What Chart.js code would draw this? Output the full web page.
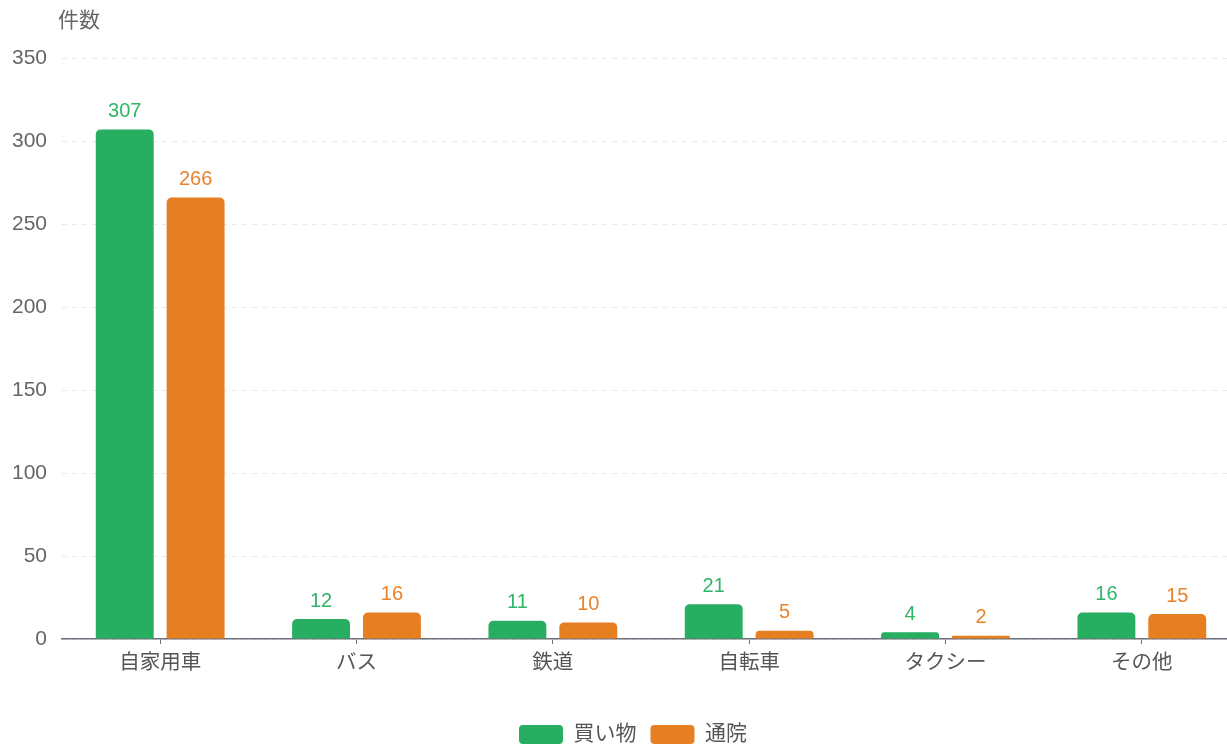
<!DOCTYPE html>
<html><head><meta charset="utf-8">
<script src="https://cdn.jsdelivr.net/npm/chart.js@4.4.1/dist/chart.umd.min.js"></script>
<style>
html,body{margin:0;padding:0;background:#fff;overflow:hidden;}
#wrap{width:1240px;height:750px;position:relative;}
</style></head><body>
<div id="wrap"><canvas id="c"></canvas></div>
<script>
const categories = ['自家用車','バス','鉄道','自転車','タクシー','その他'];
const shopping = [307, 12, 11, 21, 4, 16];
const hospital = [266, 16, 10, 5, 2, 15];
const seriesNames = ['買い物','通院'];
const yTicks = [0, 50, 100, 150, 200, 250, 300, 350];
const yTitle = '件数';

const FONT = '"Liberation Sans", "Noto Sans CJK JP", sans-serif';
const GREEN = '#27ae60', ORANGE = '#e67e22';
const LABEL_COLORS = ['#2fb566', '#e8832c'];

const labelPlugin = {
  id: 'valueLabels',
  afterLayout(chart) {
    if (chart.legend) { chart.legend.left += 13; chart.legend.right += 13; }
  },
  afterDatasetsDraw(chart) {
    const ctx = chart.ctx;
    ctx.save();
    ctx.font = '20px ' + FONT;
    ctx.textAlign = 'center';
    ctx.textBaseline = 'middle';
    chart.data.datasets.forEach((ds, i) => {
      const meta = chart.getDatasetMeta(i);
      ctx.fillStyle = LABEL_COLORS[i];
      meta.data.forEach((bar, j) => {
        ctx.fillText(String(ds.data[j]), bar.x, bar.y - 18);
      });
    });
    ctx.fillStyle = '#666';
    ctx.font = '21px ' + FONT;
    ctx.textAlign = 'left';
    ctx.fillText(yTitle, 58, 21);
    ctx.restore();
  }
};

new Chart(document.getElementById('c'), {
  type: 'bar',
  data: {
    labels: categories,
    datasets: [
      { label: seriesNames[0], data: shopping, backgroundColor: GREEN,
        borderRadius: {topLeft: 5, topRight: 5}, borderSkipped: 'start' },
      { label: seriesNames[1], data: hospital, backgroundColor: ORANGE,
        borderRadius: {topLeft: 5, topRight: 5}, borderSkipped: 'start' }
    ]
  },
  options: {
    responsive: true,
    maintainAspectRatio: false,
    animation: false,
    datasets: { bar: { categoryPercentage: 0.722, barPercentage: 0.817 } },
    layout: { padding: { top: 58, left: 0, right: 0, bottom: -5 } },
    scales: {
      x: {
        offset: true,
        afterFit(scale) { scale.height = 71; },
        grid: { display: true, drawOnChartArea: false, offset: false, tickLength: 5, color: '#6e7079' },
        border: { display: true, color: '#6e7079', width: 1.5 },
        ticks: { color: '#555', font: { size: 20.5, family: FONT }, padding: 7 },
      },
      y: {
        min: 0, max: 350,
        afterBuildTicks(scale) { scale.ticks = yTicks.map(v => ({ value: v })); },
        afterFit(scale) { scale.width = 62; },
        grid: { color: '#e6e9ee', drawTicks: false },
        border: { display: false, dash: [5, 5] },
        ticks: { color: '#666', font: { size: 21, family: FONT }, padding: 15 }
      }
    },
    plugins: {
      legend: {
        position: 'bottom',
        labels: {
          boxWidth: 44, boxHeight: 19, useBorderRadius: true, borderRadius: 4,
          color: '#555', font: { size: 21, family: FONT }, padding: 14
        }
      },
      tooltip: { enabled: false }
    }
  },
  plugins: [labelPlugin]
});
</script>
</body></html>
